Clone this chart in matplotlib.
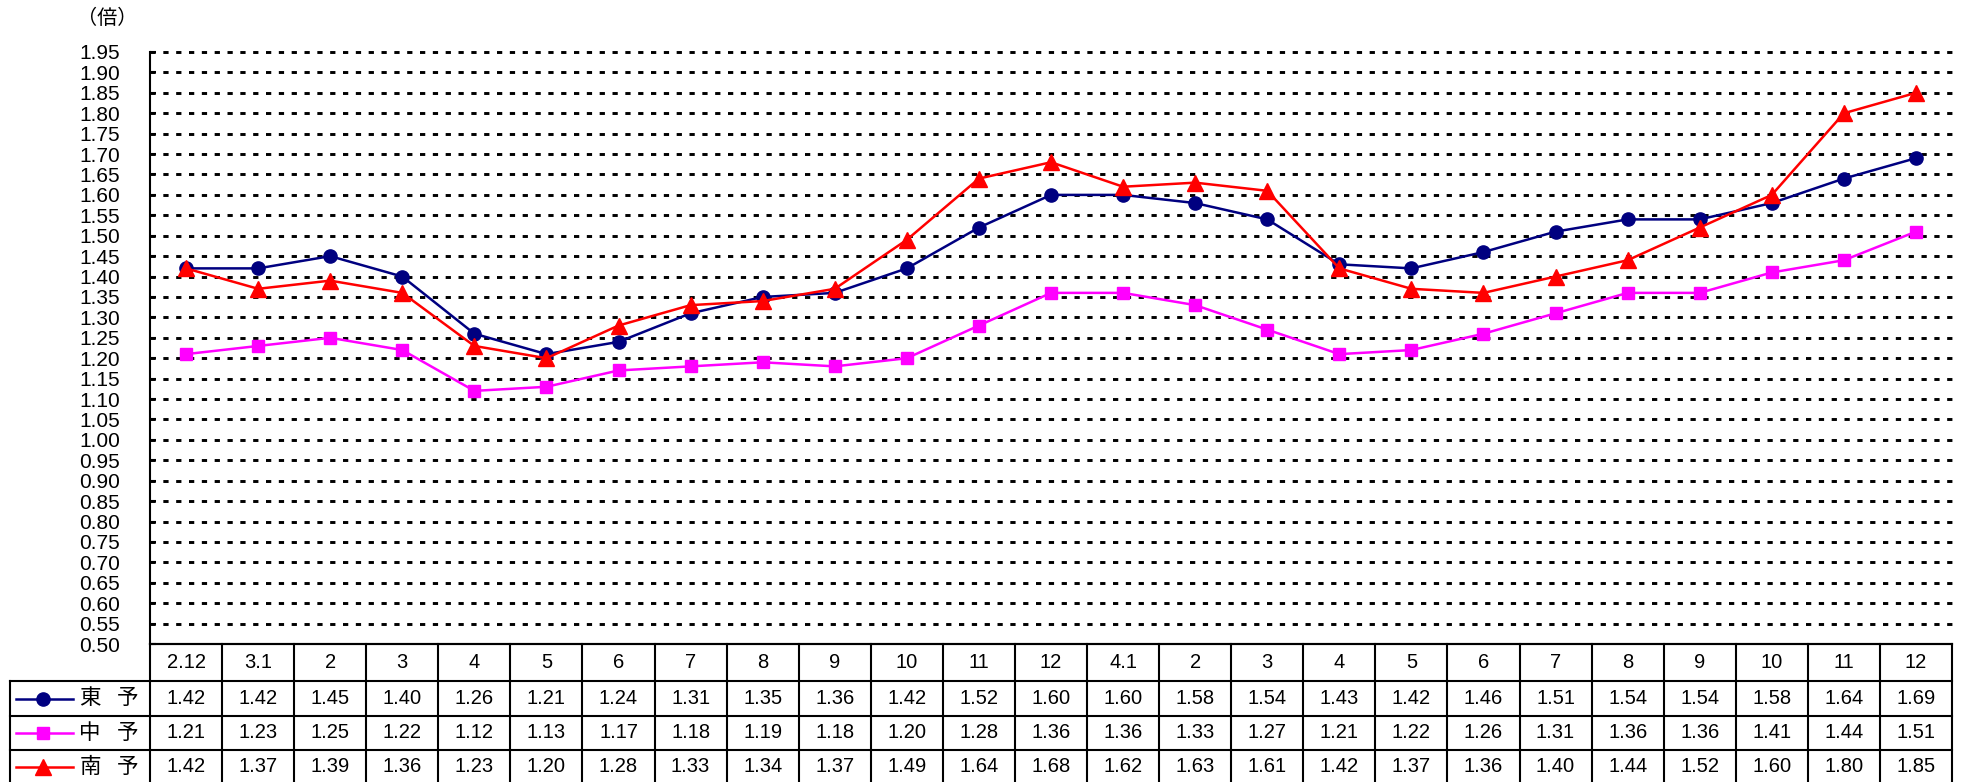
import numpy as np
import matplotlib
matplotlib.use("Agg")
import matplotlib.pyplot as plt


months = ["2.12", "3.1", "2", "3", "4", "5", "6", "7", "8", "9", "10", "11",
          "12", "4.1", "2", "3", "4", "5", "6", "7", "8", "9", "10", "11", "12"]
toyo = [1.42, 1.42, 1.45, 1.40, 1.26, 1.21, 1.24, 1.31, 1.35, 1.36, 1.42, 1.52,
        1.60, 1.60, 1.58, 1.54, 1.43, 1.42, 1.46, 1.51, 1.54, 1.54, 1.58, 1.64, 1.69]
chuyo = [1.21, 1.23, 1.25, 1.22, 1.12, 1.13, 1.17, 1.18, 1.19, 1.18, 1.20, 1.28,
         1.36, 1.36, 1.33, 1.27, 1.21, 1.22, 1.26, 1.31, 1.36, 1.36, 1.41, 1.44, 1.51]
nanyo = [1.42, 1.37, 1.39, 1.36, 1.23, 1.20, 1.28, 1.33, 1.34, 1.37, 1.49, 1.64,
         1.68, 1.62, 1.63, 1.61, 1.42, 1.37, 1.36, 1.40, 1.44, 1.52, 1.60, 1.80, 1.85]
regions = [("東", "予"), ("中", "予"), ("南", "予")]
yticks = np.round(np.arange(0.50, 1.951, 0.05), 2)

series = [toyo, chuyo, nanyo]
styles = [dict(color="#000080", marker="o", ms=9.5),
          dict(color="#FF00FF", marker="s", ms=8),
          dict(color="#FF0000", marker="^", ms=11)]

NUM_FONT = ["Liberation Sans", "DejaVu Sans"]
JP_FONT = ["Noto Sans CJK JP", "DejaVu Sans"]

W, H = 1966, 782
fig = plt.figure(figsize=(W / 100, H / 100), dpi=100)

# layout in pixels (from top-left)
ax_l, ax_r, ax_t, ax_b = 150, 1952, 52, 644
tab_l = 10
row_edges = [644, 681, 716, 750, 784]
n = len(months)
colw = (ax_r - ax_l) / n

ax = fig.add_axes([ax_l / W, (H - ax_b) / H, (ax_r - ax_l) / W, (ax_b - ax_t) / H])
x = np.arange(n)
for vals, st in zip(series, styles):
    ax.plot(x, vals, color=st["color"], lw=1.8, marker=st["marker"],
            ms=st["ms"], mec=st["color"], mfc=st["color"], zorder=3)

ax.set_xlim(-0.5, n - 0.5)
ax.set_ylim(0.50, 1.95)
ax.hlines(yticks[1:], -0.5, n - 0.5, colors="black", lw=2.1,
          linestyles=(0, (1.8, 2.6)), clip_on=False, zorder=1)
ax.set_yticks(yticks)
ax.set_yticklabels([f"{v:.2f}" for v in yticks], family=NUM_FONT, fontsize=15)
ax.tick_params(axis="y", direction="in", length=4, width=1.5, pad=21.5)
ax.set_xticks([])
for s in ["top", "right"]:
    ax.spines[s].set_visible(False)
ax.spines["left"].set_linewidth(1.5)
ax.spines["bottom"].set_linewidth(1.5)

fig.text(107 / W, 1 - 19 / H, "（倍）", family=JP_FONT, fontsize=14.5,
         ha="center", va="center")

# data table under the chart
tx = fig.add_axes([tab_l / W, 0, (ax_r - tab_l) / W, (H - ax_b) / H])
x_left = -0.5 - (ax_l - tab_l) / colw
tx.set_xlim(x_left, n - 0.5)
tx.set_ylim(H, ax_b)
tx.axis("off")


def px2x(px):
    return -0.5 + (px - ax_l) / colw


lw_t = 1.5
tx.plot([-0.5, n - 0.5], [row_edges[0]] * 2, color="black", lw=lw_t, clip_on=False)
for y in row_edges[1:4]:
    tx.plot([x_left, n - 0.5], [y, y], color="black", lw=lw_t, clip_on=False)
for k in range(n + 1):
    tx.plot([-0.5 + k] * 2, [row_edges[0], row_edges[-1]], color="black",
            lw=lw_t, clip_on=False)
tx.plot([x_left] * 2, [row_edges[1], row_edges[-1]], color="black", lw=lw_t,
        clip_on=False)

yc = [(row_edges[i] + row_edges[i + 1]) / 2 for i in range(4)]
for i, m in enumerate(months):
    tx.text(i, yc[0], m, family=NUM_FONT, fontsize=14.5, ha="center", va="center")

for r, (vals, st, (c1, c2)) in enumerate(zip(series, styles, regions)):
    y = yc[r + 1]
    for i, v in enumerate(vals):
        tx.text(i, y, f"{v:.2f}", family=NUM_FONT, fontsize=14.5,
                ha="center", va="center")
    tx.plot([px2x(16), px2x(73)], [y, y], color=st["color"], lw=1.8)
    tx.plot([px2x(43)], [y], marker=st["marker"], ms=st["ms"],
            color=st["color"], mec=st["color"])
    tx.text(px2x(90), y, c1, family=JP_FONT, fontsize=15.5, ha="center", va="center")
    tx.text(px2x(128), y, c2, family=JP_FONT, fontsize=15.5, ha="center", va="center")

fig.savefig("out.png", dpi=100)
